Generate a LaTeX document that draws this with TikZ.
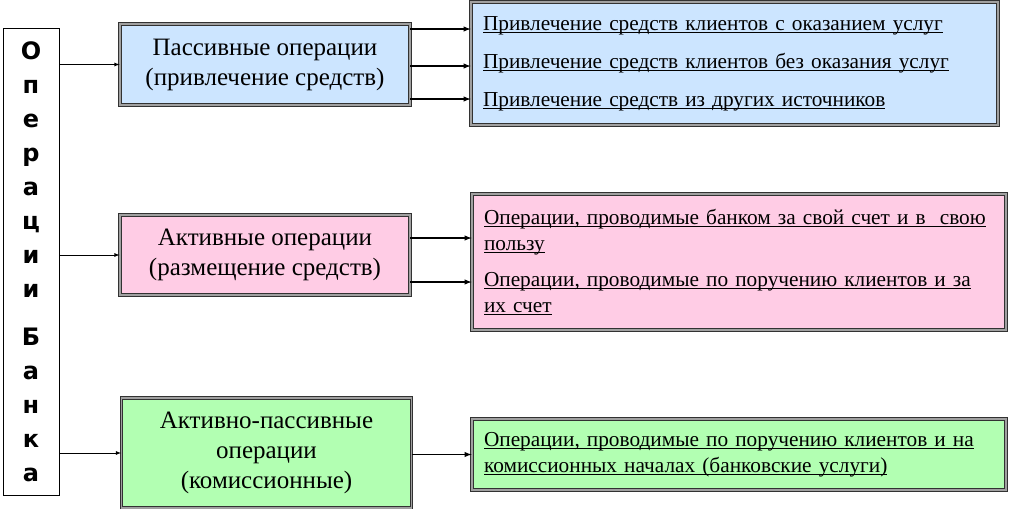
\documentclass[tikz,border=0pt]{standalone}
\usepackage{fontspec}
\setmainfont{Liberation Serif}
\newfontfamily\bankfont{DejaVu Sans Bold}
\usepackage{xcolor}
\usetikzlibrary{positioning}
\definecolor{pasblue}{RGB}{204,229,255}
\definecolor{actpink}{RGB}{255,204,229}
\definecolor{apgreen}{RGB}{178,255,178}
\definecolor{frame}{RGB}{50,50,50}
\definecolor{framemid}{RGB}{160,160,160}
\newsavebox\ulbox
\newcommand\ulline[1]{\leavevmode\sbox\ulbox{#1}\rlap{\rule[-3pt]{\wd\ulbox}{0.9pt}}\usebox\ulbox}

\begin{document}
\begin{tikzpicture}[x=1pt,y=-1pt,
    opbox/.style={draw=frame,double=framemid,line width=0.8pt,double distance=1.5pt,
        align=center,inner sep=0pt,minimum width=290pt,font=\fontsize{25}{30}\selectfont},
    listbox/.style={draw=frame,double=framemid,line width=0.8pt,double distance=1.5pt,
        align=left,inner xsep=12pt,inner ysep=0pt,font=\fontsize{21.3}{26}\selectfont},
    thinarr/.style={-latex,line width=0.8pt},
    thickarr/.style={-latex,line width=1.4pt}]
    \useasboundingbox (0,0) rectangle (1010,509);
    % Left column
    \node[draw,fill=white,line width=0.8pt,minimum width=56pt,minimum height=467pt,inner sep=0pt,
        align=center,font=\bankfont\fontsize{24}{34}\selectfont] (bank) at (31,261.5)
        {О\\п\\е\\р\\а\\ц\\и\\и\\[14pt]Б\\а\\н\\к\\а};
    % Middle column
    \node[opbox,fill=pasblue,minimum height=81pt] (passive) at (265,64.5)
        {Пассивные операции\\(привлечение средств)};
    \node[opbox,fill=actpink,minimum height=80pt] (active) at (265,255)
        {Активные операции\\(размещение средств)};
    \node[opbox,fill=apgreen,minimum height=110pt] (actpas) at (266.5,453)
        {Активно-пассивные\\операции\\(комиссионные)};
    % Right column
    \node[listbox,fill=pasblue,text width=503pt,minimum height=123pt] (blue) at (734.5,63.5)
        {\ulline{Привлечение средств клиентов с оказанием услуг}\\[12pt]
         \ulline{Привлечение средств клиентов без оказания услуг}\\[12pt]
         \ulline{Привлечение средств из других источников}};
    \node[listbox,fill=actpink,text width=510pt,minimum height=136pt] (pink) at (739,262)
        {\ulline{Операции, проводимые банком за свой счет и в\ \ свою}\\
         \ulline{пользу}\\[10pt]
         \ulline{Операции, проводимые по поручению клиентов и за}\\
         \ulline{их счет}};
    \node[listbox,fill=apgreen,text width=510pt,minimum height=71pt] (green) at (739,454.5)
        {\ulline{Операции, проводимые по поручению клиентов и на}\\
         \ulline{комиссионных началах (банковские услуги)}};
    % Arrows
    \foreach \n in {passive,active,actpas}
        \draw[thinarr] (bank.east |- \n) -- (\n.west);
    \foreach \s [count=\i] in {35.5,-1.5,-34.5} {
        \coordinate (pa\i) at ([yshift=\s pt]passive.east);
        \draw[thickarr] (pa\i) -- (pa\i -| blue.west);
    }
    \foreach \s [count=\i] in {17,-27} {
        \coordinate (ac\i) at ([yshift=\s pt]active.east);
        \draw[thickarr] (ac\i) -- (ac\i -| pink.west);
    }
    \draw[thickarr] (actpas.east |- green) -- (green.west);
\end{tikzpicture}
\end{document}
